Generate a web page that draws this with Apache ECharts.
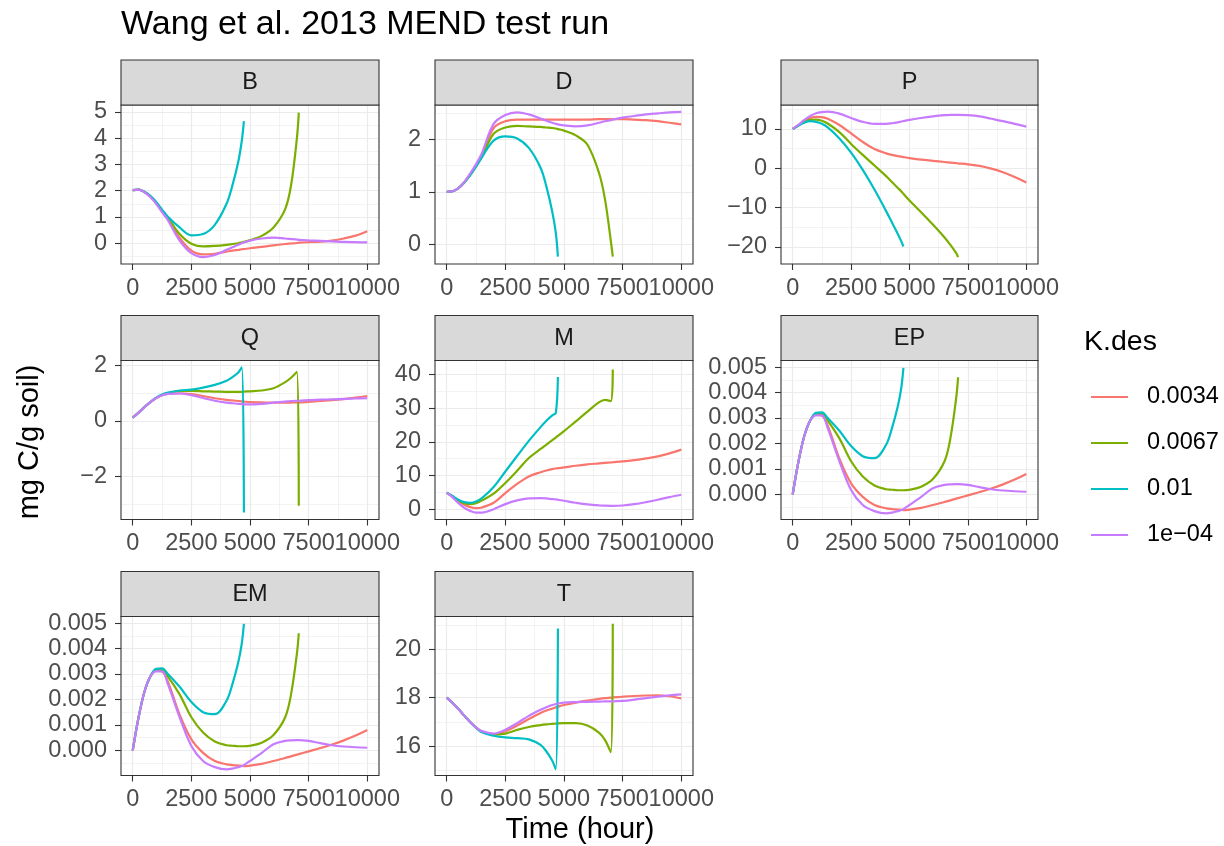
<!DOCTYPE html>
<html>
<head>
<meta charset="utf-8">
<script src="https://cdn.jsdelivr.net/npm/echarts@6/dist/echarts.min.js"></script>
<style>html,body{margin:0;padding:0;background:#ffffff}#chart{width:1224px;height:846px}</style>
</head>
<body>
<div id="chart"></div>
<script>
// ---------- data ----------
const TIME = [0, 250, 500, 750, 1000, 1250, 1500, 2000, 2500, 3000, 3500, 4000, 4250, 4500, 4650, 4740,
              5000, 5500, 6000, 6500, 6750, 7000, 7080, 7500, 8000, 8500, 9000, 9500, 10000];
const K_LEVELS = ['0.0034', '0.0067', '0.01', '1e\u221204'];
const PANELS = ['B', 'D', 'P', 'Q', 'M', 'EP', 'EM', 'T'];
const N = null;

const B_K0034 = [2.02, 2.04, 1.95, 1.78, 1.53, 1.22, 0.93, 0.2, -0.28, -0.42, -0.4, -0.32, -0.28, -0.25, -0.23, -0.22, -0.19, -0.14, -0.08, -0.03, -0.01, 0.01, 0.02, 0.04, 0.06, 0.1, 0.18, 0.29, 0.46];
const B_K0067 = [2.02, 2.04, 1.95, 1.79, 1.55, 1.25, 0.97, 0.35, -0.02, -0.12, -0.1, -0.06, -0.03, 0.0, 0.03, 0.05, 0.12, 0.28, 0.6, 1.3, 2.2, 4.0, 4.97, N, N, N, N, N, N];
const B_K01   = [2.02, 2.04, 1.96, 1.8, 1.57, 1.28, 1.01, 0.6, 0.3, 0.35, 0.7, 1.5, 2.2, 3.1, 3.9, 4.65, N, N, N, N, N, N, N, N, N, N, N, N, N];
const B_K1e4  = [2.02, 2.04, 1.94, 1.76, 1.5, 1.18, 0.88, 0.1, -0.38, -0.53, -0.45, -0.25, -0.15, -0.06, 0.0, 0.03, 0.1, 0.18, 0.21, 0.18, 0.16, 0.14, 0.13, 0.11, 0.09, 0.07, 0.05, 0.04, 0.03];

const D_K0034 = [1.0, 1.01, 1.07, 1.18, 1.33, 1.5, 1.7, 2.22, 2.35, 2.38, 2.38, 2.38, 2.38, 2.38, 2.38, 2.38, 2.38, 2.38, 2.38, 2.39, 2.39, 2.39, 2.39, 2.39, 2.38, 2.37, 2.35, 2.32, 2.29];
const D_K0067 = [1.0, 1.01, 1.07, 1.18, 1.32, 1.49, 1.67, 2.11, 2.23, 2.26, 2.25, 2.24, 2.23, 2.22, 2.21, 2.2, 2.17, 2.08, 1.9, 1.35, 0.85, 0.05, -0.24, N, N, N, N, N, N];
const D_K01   = [1.0, 1.01, 1.07, 1.18, 1.32, 1.48, 1.66, 1.98, 2.06, 2.02, 1.84, 1.46, 1.1, 0.62, 0.22, -0.24, N, N, N, N, N, N, N, N, N, N, N, N, N];
const D_K1e4  = [1.0, 1.01, 1.07, 1.19, 1.35, 1.53, 1.74, 2.3, 2.47, 2.52, 2.48, 2.4, 2.36, 2.32, 2.3, 2.29, 2.27, 2.25, 2.27, 2.32, 2.35, 2.37, 2.38, 2.42, 2.45, 2.48, 2.5, 2.52, 2.53];

const P_K0034 = [10.0, 11.0, 12.1, 12.8, 13.1, 13.0, 12.6, 11.0, 8.9, 6.7, 4.9, 3.8, 3.4, 3.1, 2.95, 2.85, 2.6, 2.2, 1.9, 1.6, 1.45, 1.3, 1.25, 1.0, 0.6, -0.1, -1.0, -2.2, -3.6];
const P_K0067 = [10.0, 10.9, 11.8, 12.3, 12.4, 12.1, 11.4, 9.2, 6.2, 3.4, 0.7, -2.0, -3.5, -5.0, -5.9, -6.5, -8.2, -11.2, -14.3, -17.6, -19.5, -21.6, -22.6, N, N, N, N, N, N];
const P_K01   = [10.0, 10.9, 11.6, 12.0, 11.8, 11.3, 10.4, 7.6, 4.0, -0.4, -5.4, -10.9, -13.8, -16.7, -18.6, -19.9, N, N, N, N, N, N, N, N, N, N, N, N, N];
const P_K1e4  = [10.0, 11.1, 12.3, 13.3, 14.0, 14.3, 14.4, 13.9, 12.8, 11.8, 11.3, 11.3, 11.45, 11.7, 11.9, 12.0, 12.3, 12.8, 13.2, 13.5, 13.58, 13.6, 13.6, 13.5, 13.2, 12.6, 12.0, 11.3, 10.6];

const Q_K0034 = [0.12, 0.3, 0.5, 0.68, 0.83, 0.93, 0.98, 1.0, 0.97, 0.9, 0.82, 0.76, 0.74, 0.72, 0.71, 0.7, 0.68, 0.67, 0.66, 0.66, 0.665, 0.67, 0.67, 0.69, 0.72, 0.75, 0.79, 0.84, 0.9];
const Q_K0067 = [0.12, 0.3, 0.5, 0.68, 0.83, 0.94, 1.0, 1.08, 1.08, 1.07, 1.06, 1.05, 1.05, 1.05, 1.05, 1.06, 1.07, 1.1, 1.18, 1.4, 1.56, 1.77, -3.05, N, N, N, N, N, N];
const Q_K01   = [0.12, 0.3, 0.5, 0.68, 0.84, 0.95, 1.02, 1.1, 1.13, 1.2, 1.3, 1.45, 1.58, 1.75, 1.93, -3.3, N, N, N, N, N, N, N, N, N, N, N, N, N];
const Q_K1e4  = [0.12, 0.3, 0.5, 0.68, 0.83, 0.93, 0.98, 0.99, 0.93, 0.83, 0.73, 0.66, 0.64, 0.62, 0.61, 0.6, 0.6, 0.62, 0.66, 0.7, 0.72, 0.73, 0.73, 0.75, 0.77, 0.78, 0.8, 0.81, 0.82];

const M_K0034 = [4.9, 3.8, 2.4, 1.3, 0.6, 0.3, 0.5, 1.9, 4.8, 7.5, 9.7, 11.0, 11.5, 11.9, 12.1, 12.2, 12.4, 12.9, 13.3, 13.6, 13.75, 13.9, 13.95, 14.2, 14.6, 15.1, 15.7, 16.6, 17.7];
const M_K0067 = [4.9, 3.8, 2.6, 1.8, 1.5, 1.8, 2.6, 4.6, 7.8, 11.4, 15.2, 17.9, 19.2, 20.5, 21.3, 21.8, 23.2, 26.1, 29.0, 31.8, 32.5, 32.1, 41.5, N, N, N, N, N, N];
const M_K01   = [4.9, 3.9, 2.8, 2.1, 1.9, 2.3, 3.3, 6.6, 11.2, 15.8, 20.3, 24.4, 26.3, 27.9, 28.6, 39.3, N, N, N, N, N, N, N, N, N, N, N, N, N];
const M_K1e4  = [4.9, 3.5, 1.8, 0.4, -0.5, -1.0, -1.0, 0.0, 1.5, 2.6, 3.2, 3.3, 3.2, 3.0, 2.9, 2.8, 2.5, 1.9, 1.4, 1.1, 1.03, 1.0, 1.0, 1.1, 1.5, 2.1, 2.8, 3.6, 4.3];

const EP_K0034 = [0, 0.0013, 0.0023, 0.0029, 0.00313, 0.0031, 0.0027, 0.0014, 0.00043, -0.0001, -0.00042, -0.00055, -0.00058, -0.0006, -0.00061, -0.00062, -0.0006, -0.00053, -0.00042, -0.0003, -0.00024, -0.00017, -0.00015, -0.00004, 0.00009, 0.00023, 0.00039, 0.00058, 0.0008];
const EP_K0067 = [0, 0.0013, 0.0023, 0.0029, 0.00315, 0.00315, 0.0029, 0.0022, 0.0013, 0.0007, 0.00035, 0.0002, 0.00018, 0.00016, 0.00016, 0.00016, 0.00018, 0.0003, 0.0006, 0.0013, 0.0022, 0.0038, 0.0046, N, N, N, N, N, N];
const EP_K01   = [0, 0.0013, 0.0023, 0.0029, 0.0032, 0.00322, 0.003, 0.0025, 0.0019, 0.0015, 0.00142, 0.00195, 0.0026, 0.00346, 0.0042, 0.00497, N, N, N, N, N, N, N, N, N, N, N, N, N];
const EP_K1e4  = [0, 0.0013, 0.0023, 0.0029, 0.0031, 0.0031, 0.0026, 0.0013, 0.00017, -0.00042, -0.00066, -0.00075, -0.00072, -0.00066, -0.00062, -0.00058, -0.00042, -0.0001, 0.00024, 0.00037, 0.00039, 0.0004, 0.0004, 0.00037, 0.00028, 0.0002, 0.00015, 0.00012, 0.0001];

const EM_K0034 = [0, 0.0013, 0.0023, 0.0029, 0.00313, 0.0031, 0.0027, 0.0014, 0.00043, -0.0001, -0.00042, -0.00055, -0.00058, -0.0006, -0.00061, -0.00062, -0.0006, -0.00053, -0.00042, -0.0003, -0.00024, -0.00017, -0.00015, -0.00004, 0.00009, 0.00023, 0.00039, 0.00058, 0.0008];
const EM_K0067 = [0, 0.0013, 0.0023, 0.0029, 0.00315, 0.00315, 0.0029, 0.0022, 0.0013, 0.0007, 0.00035, 0.0002, 0.00018, 0.00016, 0.00016, 0.00016, 0.00018, 0.0003, 0.0006, 0.0013, 0.0022, 0.0038, 0.0046, N, N, N, N, N, N];
const EM_K01   = [0, 0.0013, 0.0023, 0.0029, 0.0032, 0.00322, 0.003, 0.0025, 0.0019, 0.0015, 0.00142, 0.00195, 0.0026, 0.00346, 0.0042, 0.00497, N, N, N, N, N, N, N, N, N, N, N, N, N];
const EM_K1e4  = [0, 0.0013, 0.0023, 0.0029, 0.0031, 0.0031, 0.0026, 0.0013, 0.00017, -0.00042, -0.00066, -0.00075, -0.00072, -0.00066, -0.00062, -0.00058, -0.00042, -0.0001, 0.00024, 0.00037, 0.00039, 0.0004, 0.0004, 0.00037, 0.00028, 0.0002, 0.00015, 0.00012, 0.0001];

const T_K0034 = [18.0, 17.78, 17.53, 17.26, 17.0, 16.77, 16.6, 16.5, 16.62, 16.85, 17.12, 17.37, 17.47, 17.55, 17.6, 17.63, 17.7, 17.8, 17.88, 17.95, 17.98, 18.0, 18.01, 18.04, 18.07, 18.09, 18.1, 18.06, 17.97];
const T_K0067 = [18.0, 17.78, 17.53, 17.26, 17.0, 16.77, 16.6, 16.48, 16.52, 16.67, 16.79, 16.87, 16.9, 16.92, 16.93, 16.94, 16.95, 16.95, 16.85, 16.55, 16.25, 15.75, 21.05, N, N, N, N, N, N];
const T_K01   = [18.0, 17.78, 17.53, 17.26, 17.0, 16.76, 16.57, 16.43, 16.36, 16.33, 16.28, 16.05, 15.78, 15.4, 15.05, 20.85, N, N, N, N, N, N, N, N, N, N, N, N, N];
const T_K1e4  = [18.0, 17.78, 17.53, 17.26, 17.0, 16.78, 16.62, 16.52, 16.68, 16.95, 17.25, 17.5, 17.61, 17.7, 17.74, 17.76, 17.8, 17.82, 17.83, 17.84, 17.845, 17.85, 17.85, 17.87, 17.92, 17.98, 18.04, 18.1, 18.14];

// tick labels and axis limits
const X_TICKS = [0, 2500, 5000, 7500, 10000];
const X_LABELS_A = [0, 5000, 10000];
const X_LABELS_B = [2500, 7500];
const X_RANGE = [-500, 10500];
const Y_TICKS_B = [0, 1, 2, 3, 4, 5];            const Y_RANGE_B = [-0.79, 5.26];
const Y_TICKS_D = [0, 1, 2];                     const Y_RANGE_D = [-0.38, 2.66];
const Y_TICKS_P = [-20, -10, 0, 10];             const Y_RANGE_P = [-24.35, 16.1];
const Y_TICKS_Q = [-2, 0, 2];                    const Y_RANGE_Q = [-3.55, 2.18];
const Y_TICKS_M = [0, 10, 20, 30, 40];           const Y_RANGE_M = [-3.07, 44.2];
const Y_TICKS_E = [0, 0.001, 0.002, 0.003, 0.004, 0.005]; const Y_RANGE_E = [-0.00099, 0.00526];
const Y_TICKS_T = [16, 18, 20];                  const Y_RANGE_T = [14.79, 21.35];

// ---------- layout / style ----------
const COLORS = ['#F8766D', '#7CAE00', '#00BFC4', '#C77CFF'];
const FONT = "'Liberation Sans', Arial, Helvetica, sans-serif";
const COL_LEFT = [121, 435, 781];
const COL_W = [258, 258, 257];
const ROW_TOP = [105, 360.5, 616.5];
const PANEL_H = 159;
const STRIP_H = 45;
const LABEL_SIZE = 23.5;

const PANEL_SPEC = [
  { s: [B_K0034, B_K0067, B_K01, B_K1e4], ticks: Y_TICKS_B, range: Y_RANGE_B, step: 1, dec: 0 },
  { s: [D_K0034, D_K0067, D_K01, D_K1e4], ticks: Y_TICKS_D, range: Y_RANGE_D, step: 1, dec: 0 },
  { s: [P_K0034, P_K0067, P_K01, P_K1e4], ticks: Y_TICKS_P, range: Y_RANGE_P, step: 10, dec: 0 },
  { s: [Q_K0034, Q_K0067, Q_K01, Q_K1e4], ticks: Y_TICKS_Q, range: Y_RANGE_Q, step: 2, dec: 0 },
  { s: [M_K0034, M_K0067, M_K01, M_K1e4], ticks: Y_TICKS_M, range: Y_RANGE_M, step: 10, dec: 0 },
  { s: [EP_K0034, EP_K0067, EP_K01, EP_K1e4], ticks: Y_TICKS_E, range: Y_RANGE_E, step: 0.001, dec: 3 },
  { s: [EM_K0034, EM_K0067, EM_K01, EM_K1e4], ticks: Y_TICKS_E, range: Y_RANGE_E, step: 0.001, dec: 3 },
  { s: [T_K0034, T_K0067, T_K01, T_K1e4], ticks: Y_TICKS_T, range: Y_RANGE_T, step: 2, dec: 0 }
];

function inList(v, list, tol) {
  return list.some(t => Math.abs(t - v) < tol);
}
function fmt(v, dec) {
  return v.toFixed(dec).replace('-', '\u2212');
}

const gridLine = { show: true, lineStyle: { color: '#EBEBEB', width: 1.2 } };
const minorLine = { show: true, lineStyle: { color: '#EBEBEB', width: 0.6 } };
const tickStyle = { color: '#333333', width: 1.1 };
const labelBase = { fontSize: LABEL_SIZE, color: '#4D4D4D', fontFamily: FONT };

const grids = [], xAxes = [], yAxes = [], series = [], graphics = [];

PANELS.forEach((name, i) => {
  const r = Math.floor(i / 3), c = i % 3;
  const left = COL_LEFT[c], top = ROW_TOP[r], w = COL_W[c];
  const spec = PANEL_SPEC[i];

  grids.push({ left: left, top: top, width: w, height: PANEL_H, show: true,
    backgroundColor: 'rgba(0,0,0,0)', borderColor: '#333333', borderWidth: 1.1, z: 3 });

  // main x axis (gridlines, ticks, labels 0/5000/10000)
  xAxes.push({ gridIndex: i, type: 'value', position: 'bottom', min: X_RANGE[0], max: X_RANGE[1],
    minInterval: 2500, maxInterval: 2500,
    axisLine: { show: false, onZero: false },
    axisTick: { show: true, length: 6, lineStyle: tickStyle, customValues: X_TICKS },
    axisLabel: Object.assign({ show: true, margin: 12.5, customValues: X_LABELS_A,
      formatter: v => inList(v, X_LABELS_A, 1) ? String(v) : '' }, labelBase),
    splitLine: gridLine, minorTick: { show: false, splitNumber: 2 }, minorSplitLine: minorLine });
  // helper x axis carrying the 2500 / 7500 labels
  xAxes.push({ gridIndex: i, type: 'value', position: 'bottom', min: X_RANGE[0], max: X_RANGE[1],
    minInterval: 2500, maxInterval: 2500,
    axisLine: { show: false, onZero: false }, axisTick: { show: false },
    axisLabel: Object.assign({ show: true, margin: 12.5, customValues: X_LABELS_B,
      formatter: v => inList(v, X_LABELS_B, 1) ? String(v) : '' }, labelBase),
    splitLine: { show: false }, minorSplitLine: { show: false } });

  const tol = spec.step / 100;
  yAxes.push({ gridIndex: i, type: 'value', position: 'left', min: spec.range[0], max: spec.range[1],
    minInterval: spec.step, maxInterval: spec.step,
    axisLine: { show: false, onZero: false },
    axisTick: { show: true, length: 6, lineStyle: tickStyle, customValues: spec.ticks },
    axisLabel: Object.assign({ show: true, margin: 14, customValues: spec.ticks,
      formatter: v => inList(v, spec.ticks, tol) ? fmt(v, spec.dec) : '' }, labelBase),
    splitLine: gridLine, minorTick: { show: false, splitNumber: 2 }, minorSplitLine: minorLine });

  spec.s.forEach((vals, k) => {
    const data = [];
    TIME.forEach((t, j) => { if (vals[j] !== null) data.push([t, vals[j]]); });
    series.push({ name: K_LEVELS[k], type: 'line', xAxisIndex: 2 * i, yAxisIndex: i, data: data,
      showSymbol: false, symbol: 'none', smooth: 0.35, color: COLORS[k],
      lineStyle: { width: 2.2, color: COLORS[k] }, itemStyle: { color: COLORS[k] },
      z: 2, silent: true, animation: false });
  });

  // facet strip
  graphics.push({ type: 'rect', shape: { x: left, y: top - STRIP_H, width: w, height: STRIP_H },
    style: { fill: '#D9D9D9', stroke: '#333333', lineWidth: 1.1 }, z: 5 });
  graphics.push({ type: 'text', x: left + w / 2, y: top - STRIP_H / 2 + 0.5, z: 6,
    style: { text: name, fontSize: LABEL_SIZE, fontFamily: FONT, fill: '#1A1A1A', align: 'center', verticalAlign: 'middle' } });
});

graphics.push({ type: 'text', x: 121, y: 24.5, z: 6,
  style: { text: 'Wang et al. 2013 MEND test run', fontSize: 34, fontFamily: FONT, fill: '#000000', align: 'left', verticalAlign: 'middle' } });
graphics.push({ type: 'text', x: 580, y: 829.5, z: 6,
  style: { text: 'Time (hour)', fontSize: 29, fontFamily: FONT, fill: '#000000', align: 'center', verticalAlign: 'middle' } });
graphics.push({ type: 'text', x: 30, y: 442, rotation: Math.PI / 2, z: 6,
  style: { text: 'mg C/g soil)', fontSize: 29, fontFamily: FONT, fill: '#000000', align: 'center', verticalAlign: 'middle' } });
graphics.push({ type: 'text', x: 1084, y: 342.5, z: 6,
  style: { text: 'K.des', fontSize: 28.5, fontFamily: FONT, fill: '#000000', align: 'left', verticalAlign: 'middle' } });

const chart = echarts.init(document.getElementById('chart'), null, { renderer: 'canvas', width: 1224, height: 846 });
chart.setOption({
  animation: false,
  backgroundColor: '#ffffff',
  textStyle: { fontFamily: FONT },
  grid: grids,
  xAxis: xAxes,
  yAxis: yAxes,
  series: series,
  legend: { orient: 'vertical', left: 1086, top: 380, icon: 'rect', itemWidth: 37, itemHeight: 2.2,
    itemGap: 22, data: K_LEVELS, selectedMode: false,
    textStyle: { fontSize: LABEL_SIZE, color: '#000000', fontFamily: FONT, lineHeight: 24, padding: [0, 0, 0, 14] } },
  graphic: { elements: graphics }
});
</script>
</body>
</html>
